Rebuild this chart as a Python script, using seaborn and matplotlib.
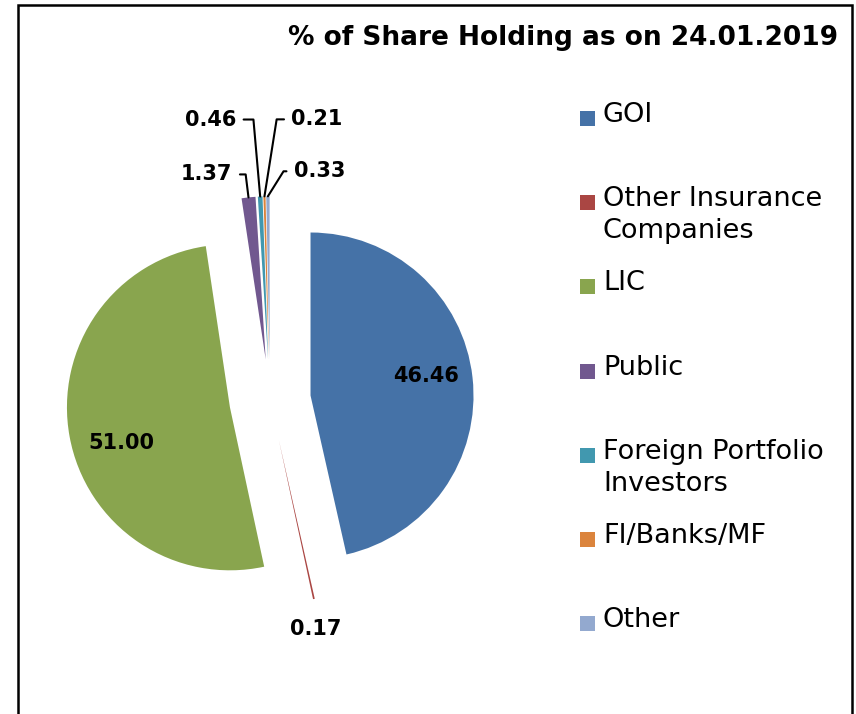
import numpy as np
import pandas as pd
import matplotlib
matplotlib.use("Agg")
import matplotlib.pyplot as plt
from matplotlib.patches import Rectangle
import seaborn as sns

categories = ["GOI", "Other Insurance\nCompanies", "LIC", "Public",
              "Foreign Portfolio\nInvestors", "FI/Banks/MF", "Other"]
shares = [46.46, 0.17, 51.00, 1.37, 0.46, 0.21, 0.33]
value_labels = ["46.46", "0.17", "51.00", "1.37", "0.46", "0.21", "0.33"]
colors = ["#4572A7", "#AA4643", "#89A54E", "#71588F", "#4198AF", "#DB843D", "#93A9CF"]

sns.set_theme(style="white")
plt.rcParams["font.family"] = ["DejaVu Sans"]
plt.rcParams["text.color"] = "black"

df = pd.DataFrame({"category": categories, "share": shares})

fig = plt.figure(figsize=(8.56, 7.14), dpi=100)
ax = fig.add_axes([0.0108, 0.0745, 0.6093, 0.7305])

wedges, _ = ax.pie(df["share"], colors=colors, startangle=90, counterclock=False,
                   explode=[0.25] * len(df), radius=1.0,
                   wedgeprops=dict(linewidth=0))
ax.set_xlim(-1.6, 1.6)
ax.set_ylim(-1.6, 1.6)
ax.set_aspect("equal")
ax.axis("off")

# label placement: (mode, a, b, ha, angleB of leader)
# "in": a = radial fraction, b = angle shift in degrees
placement = [
    ("in", 0.72, 3, None, None),
    ("below", 2, -30, "center", None),
    ("in", 0.70, 8, None, None),
    ("out", -16, 23, "right", 97),
    ("out", -24, 77, "right", 95),
    ("out", 27, 77, "left", 81),
    ("out", 26, 25, "left", 58),
]

for w, lab, (mode, a, b, ha, angB) in zip(wedges, value_labels, placement):
    mid = np.deg2rad((w.theta1 + w.theta2) / 2)
    cx, cy = w.center
    if mode == "in":
        ang = mid + np.deg2rad(b)
        ax.text(cx + a * np.cos(ang), cy + a * np.sin(ang), lab,
                ha="center", va="center", fontsize=15, fontweight="bold", color="black")
    else:
        tip = (cx + w.r * np.cos(mid), cy + w.r * np.sin(mid))
        if mode == "below":
            ax.annotate(lab, xy=tip, xytext=(a, b), textcoords="offset pixels",
                        ha=ha, va="center", fontsize=15, fontweight="bold", color="black")
        else:
            ax.annotate(lab, xy=tip, xytext=(a, b), textcoords="offset pixels",
                        ha=ha, va="center", fontsize=15, fontweight="bold", color="black",
                        arrowprops=dict(arrowstyle="-", color="black", lw=1.5,
                                        shrinkA=3, shrinkB=0,
                                        connectionstyle=f"angle,angleA=0,angleB={angB},rad=0"))

# legend drawn as a column of colour keys
slot_top = 1 - 104 / 714
slot_step = 84.2 / 714
for i, (name, col) in enumerate(zip(categories, colors)):
    y = slot_top - i * slot_step
    fig.patches.append(Rectangle((580 / 856, y - 22 / 714), 15 / 856, 15 / 714,
                                 transform=fig.transFigure, facecolor=col,
                                 edgecolor="none"))
    fig.text(603 / 856, y + 2 / 714, name, ha="left", va="top", fontsize=19.5,
             color="black", linespacing=1.3)

fig.text(838 / 856, 1 - 38 / 714, "% of Share Holding as on 24.01.2019",
         ha="right", va="center", fontsize=19, fontweight="bold", color="black")

fig.patches.append(Rectangle((18 / 856, -0.05), (852 - 18) / 856, 0.05 + 1 - 5 / 714,
                             transform=fig.transFigure, fill=False,
                             edgecolor="black", linewidth=1.8))

fig.savefig("out.png", dpi=100)
